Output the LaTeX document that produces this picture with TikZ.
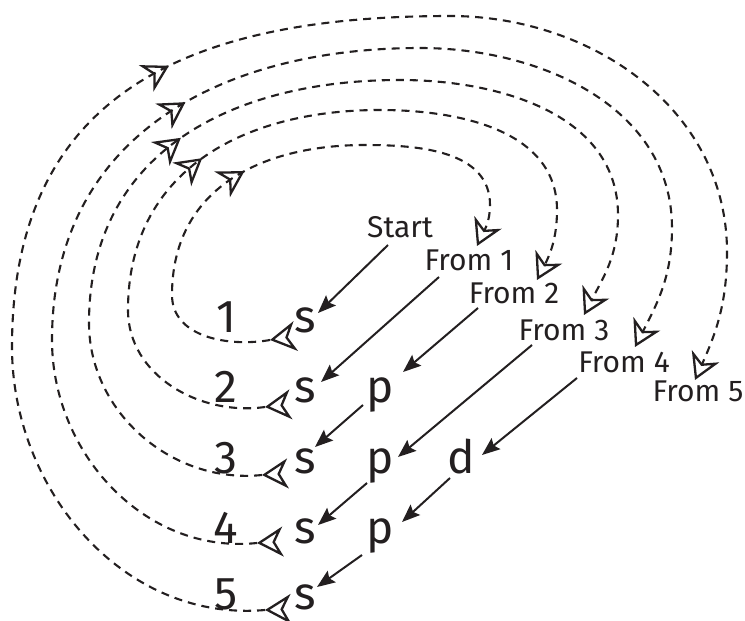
\documentclass[tikz,border=0pt]{standalone}
\usepackage{fontspec}
\setmainfont{Fira Sans}
\usetikzlibrary{arrows.meta,calc}
\definecolor{ink}{HTML}{231F20}
\begin{document}
\begin{tikzpicture}[x=1pt,y=1pt,
  big/.style={font=\fontsize{46}{50}\selectfont, text=ink, inner sep=0pt, anchor=base},
  lab/.style={font=\fontsize{30}{33}\selectfont, text=ink, inner sep=0pt, anchor=base},
  arr/.style={draw=ink, line width=2pt, -{Stealth[length=18pt,width=14pt,inset=3pt]}},
  loopline/.style={draw=ink, line width=2.1pt, dash pattern=on 8pt off 6pt, -{Stealth[open,length=26pt,width=30pt,inset=8pt,line width=2.3pt]}},
  mk/.style={draw=ink, line width=2.3pt, dash pattern=on 0pt off 2000pt, -{Stealth[open,length=26pt,width=30pt,inset=8pt]}},
  pt/.style={coordinate}
]
\useasboundingbox (0,0) rectangle (745,-621);

% shell numbers
\node[big] (d1) at (226,-332) {1};
\node[big] (d2) at (226,-402) {2};
\node[big] (d3n) at (226,-473) {3};
\node[big] (d4) at (226,-543) {4};
\node[big] (d5) at (226,-609) {5};
% orbitals
\node[big] (s1) at (305,-332) {s};
\node[big] (s2) at (305,-402) {s};
\node[big] (s3) at (305,-473) {s};
\node[big] (s4) at (305,-543) {s};
\node[big] (s5) at (305,-609) {s};
\node[big] (p2) at (380,-402) {p};
\node[big] (p3) at (380,-473) {p};
\node[big] (p4) at (380,-543) {p};
\node[big] (d3) at (461,-473) {d};
% labels
\node[lab] (start) at (400,-237) {Start};
\node[lab] (f1) at (469,-270) {From 1};
\node[lab] (f2) at (514,-303) {From 2};
\node[lab] (f3) at (564,-340) {From 3};
\node[lab] (f4) at (624,-372) {From 4};
\node[lab] (f5) at (698,-401) {From 5};

% solid arrows
\draw[arr] ([shift={(-12,-8)}]start.base) -- ([shift={(13,19)}]s1.base);
\draw[arr] ([shift={(-30,-7)}]f1.base) -- ([shift={(16,20)}]s2.base);
\draw[arr] ([shift={(-36,-5)}]f2.base) -- ([shift={(23,30)}]p2.base);
\draw[arr] ([shift={(-17,-3)}]p2.base) -- ([shift={(10,26)}]s3.base);
\draw[arr] ([shift={(-32,-5)}]f3.base) -- ([shift={(18,16)}]p3.base);
\draw[arr] ([shift={(-47,-6)}]f4.base) -- ([shift={(21,18)}]d3.base);
\draw[arr] ([shift={(-13,-10)}]p3.base) -- ([shift={(13,18)}]s4.base);
\draw[arr] ([shift={(-11,-5)}]d3.base) -- ([shift={(22,21)}]p4.base);
\draw[arr] ([shift={(-18,-12)}]p4.base) -- ([shift={(12,22)}]s5.base);

% dashed loops
\draw[loopline] ([shift={(-35,-8)}]s1.base) node[pt] (a1) {}
  to[out=190,in=-90] node[pt,pos=0.05] (b1) {} (172,-295)
  to[out=90,in=180,looseness=1.1] node[pt,pos=0.51] (c1) {} node[pt,pos=0.57] (e1) {} (365,-145)
  to[out=0,in=90] (490,-205)
  to[out=-90,in=65] ([shift={(8,24)}]f1.base);
\draw[loopline] ([shift={(-40,-5)}]s2.base) node[pt] (a2) {}
  to[out=188,in=-90] node[pt,pos=0.05] (b2) {} (128,-310)
  to[out=90,in=180,looseness=1.1] node[pt,pos=0.44] (c2) {} node[pt,pos=0.5] (e2) {} (380,-110)
  to[out=0,in=90] (557,-210)
  to[out=-90,in=63] ([shift={(23,23)}]f2.base);
\draw[loopline] ([shift={(-43,-2)}]s3.base) node[pt] (a3) {}
  to[out=186,in=-90] node[pt,pos=0.05] (b3) {} (89,-323)
  to[out=90,in=180,looseness=1.1] node[pt,pos=0.44] (c3) {} node[pt,pos=0.5] (e3) {} (400,-80)
  to[out=0,in=90] (618,-215)
  to[out=-90,in=63] ([shift={(20,25)}]f3.base);
\draw[loopline] ([shift={(-48,0)}]s4.base) node[pt] (a4) {}
  to[out=186,in=-90] node[pt,pos=0.05] (b4) {} (52,-340)
  to[out=90,in=180,looseness=1.1] node[pt,pos=0.5] (c4) {} node[pt,pos=0.56] (e4) {} (420,-48)
  to[out=0,in=90] (672,-228)
  to[out=-90,in=63] ([shift={(11,25)}]f4.base);
\draw[loopline] ([shift={(-40,-1)}]s5.base) node[pt] (a5) {}
  to[out=185,in=-90] node[pt,pos=0.05] (b5) {} (12,-347)
  to[out=90,in=180,looseness=1.2] node[pt,pos=0.51] (c5) {} node[pt,pos=0.57] (e5) {} (450,-16)
  to[out=0,in=90] (727,-252)
  to[out=-90,in=66] ([shift={(-3,21)}]f5.base);

% flow markers
\foreach \i in {1,...,5}{
  \draw[mk] ($(a\i)!-1!(b\i)$) -- (a\i);
  \draw[mk] (c\i) -- (e\i);
}
\end{tikzpicture}
\end{document}
